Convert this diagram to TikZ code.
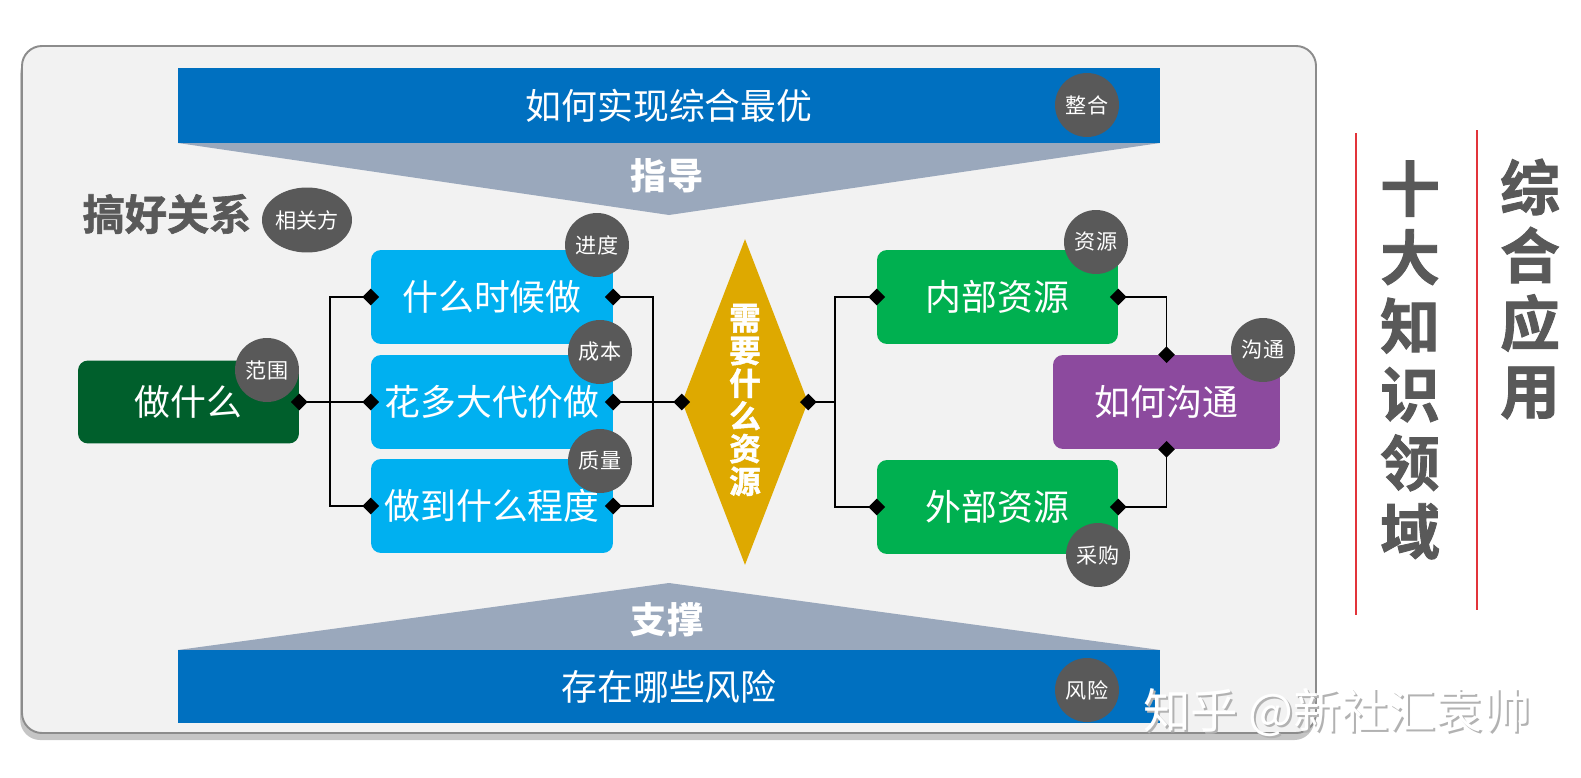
\documentclass[tikz,border=0pt]{standalone}
\usepackage{fontspec}
\setmainfont{Noto Sans CJK SC}
\newfontfamily\heavyfont{Noto Sans CJK SC Bold}[FakeBold=1.5]
\usetikzlibrary{shapes.geometric,shadows}
\definecolor{cblue}{HTML}{0070C0}
\definecolor{clight}{HTML}{00B0F0}
\definecolor{cgreen}{HTML}{00B050}
\definecolor{cdkgreen}{HTML}{005F2C}
\definecolor{cpurple}{HTML}{8C4A9E}
\definecolor{cgold}{HTML}{DEA900}
\definecolor{cgray}{HTML}{595959}
\definecolor{ctri}{HTML}{9AA8BC}
\definecolor{cpanel}{HTML}{F2F2F2}
\definecolor{cborder}{HTML}{8C8C8C}
\definecolor{cred}{HTML}{E2343A}
\begin{document}
\begin{tikzpicture}[x=0.02cm,y=-0.02cm,
  circ/.style={circle, fill=cgray, text=white, minimum size=1.28cm, inner sep=0pt, font=\fontsize{12}{14}\selectfont},
  box/.style={rounded corners=0.2cm, minimum height=1.88cm, minimum width=4.84cm, text=white, inner sep=0pt, font=\fontsize{20.4}{24}\selectfont},
  bar/.style={fill=cblue, minimum width=19.64cm, text=white, inner sep=0pt, font=\fontsize{20.4}{24}\selectfont},
  mk/.style={diamond, fill=black, minimum size=0.34cm, inner sep=0pt},
  conn/.style={line width=1.1pt, black},
  tri/.style={fill=ctri},
  trilabel/.style={text=white, font=\fontsize{20.6}{24}\selectfont\bfseries},
  vert/.style={text=cgray, align=center, inner sep=0pt},
  redline/.style={draw=cred, line width=0.8pt}
]
\useasboundingbox (0,0) rectangle (1581,777);
\fill[white] (0,0) rectangle (1581,777);
% panel
\draw[fill=cpanel, draw=cborder, line width=1.1pt, rounded corners=0.4cm,
  drop shadow={shadow xshift=-1pt, shadow yshift=-4pt, opacity=0.45}]
  (22,46) rectangle (1316,733);
% top bar and funnel
\fill[tri] (178,143) -- (1160,143) -- (669,215) -- cycle;
\node[bar, minimum height=1.5cm] (top) at (669,105.5) {如何实现综合最优};
\node[trilabel] (zd) at (667,176) {指导};
\node[circ] (zh) at (1087,105) {整合};
% bottom bar and triangle
\fill[tri] (178,650) -- (1160,650) -- (669,583) -- cycle;
\node[bar, minimum height=1.46cm] (bot) at (669,686.5) {存在哪些风险};
\node[trilabel] (zc) at (667,620) {支撑};
\node[circ] (fx) at (1087,690) {风险};
% stakeholders
\node[text=cgray, font=\fontsize{24}{28}\selectfont\heavyfont, inner sep=0pt] (ghgx) at (167,214) {搞好关系};
\node[ellipse, fill=cgray, text=white, minimum width=1.8cm, minimum height=1.3cm, inner sep=0pt, font=\fontsize{12}{14}\selectfont] (xgf) at (307,220) {相关方};
% left boxes
\node[box, fill=cdkgreen, minimum width=4.42cm, minimum height=1.66cm] (zsm) at (188.5,402) {做什么};
\node[box, fill=clight] (b1) at (492,297) {什么时候做};
\node[box, fill=clight] (b2) at (492,402) {花多大代价做};
\node[box, fill=clight] (b3) at (492,506) {做到什么程度};
% gold diamond
\node[diamond, fill=cgold, minimum width=2.52cm, minimum height=6.52cm, inner sep=0pt, aspect=0.39] (gd) at (745,402) {};
\node[text=white, align=center, inner sep=0pt, font=\fontsize{18}{18.6}\selectfont\heavyfont] (gdt) at (745,400) {需\\要\\什\\么\\资\\源};
% right boxes
\node[box, fill=cgreen, minimum width=4.82cm] (g1) at (997.5,297) {内部资源};
\node[box, fill=cgreen, minimum width=4.82cm] (g2) at (997.5,507) {外部资源};
\node[box, fill=cpurple, minimum width=4.54cm] (pu) at (1166.5,402) {如何沟通};
% connectors
\coordinate (lj) at (330,402);
\coordinate (rj) at (653,402);
\coordinate (gj) at (835,402);
\draw[conn] (zsm.east) -- (b2.west);
\draw[conn] (b1.west) -| (lj) |- (b3.west);
\draw[conn] (b1.east) -| (rj) |- (b3.east);
\draw[conn] (b2.east) -- (gd.west);
\draw[conn] (gd.east) -- (gj);
\draw[conn] (g1.west) -| (gj) |- (g2.west);
\draw[conn] (g1.east) -| (pu.north);
\draw[conn] (g2.east) -| (pu.south);
% markers
\foreach \p in {zsm.east,b1.west,b2.west,b3.west,b1.east,b2.east,b3.east,gd.west,gd.east,g1.west,g2.west,g1.east,g2.east,pu.north,pu.south}
  \node[mk] at (\p) {};
% circles
\node[circ] (fw) at (267,370) {范围};
\node[circ] (jd) at (597,245) {进度};
\node[circ] (cb) at (600,352) {成本};
\node[circ] (zl) at (600,461) {质量};
\node[circ] (zy) at (1096,242) {资源};
\node[circ] (gt) at (1263,350) {沟通};
\node[circ] (cg) at (1098,555) {采购};
% right titles
\draw[redline] (1356,133) -- (1356,615);
\draw[redline] (1477,130) -- (1477,610);
\node[vert, font=\fontsize{34}{39}\selectfont\heavyfont] (sd) at (1410,360) {十\\大\\知\\识\\领\\域};
\node[vert, font=\fontsize{34}{38.6}\selectfont\heavyfont] (zhyy) at (1530,289) {综\\合\\应\\用};
% watermark
\node[text=gray!60, font=\fontsize{27}{30}\selectfont, inner sep=0pt] at (1339,715) {知乎 @新社汇袁帅};
\node[text=white, font=\fontsize{27}{30}\selectfont, inner sep=0pt] (wm) at (1337,713) {知乎 @新社汇袁帅};
\end{tikzpicture}
\end{document}
